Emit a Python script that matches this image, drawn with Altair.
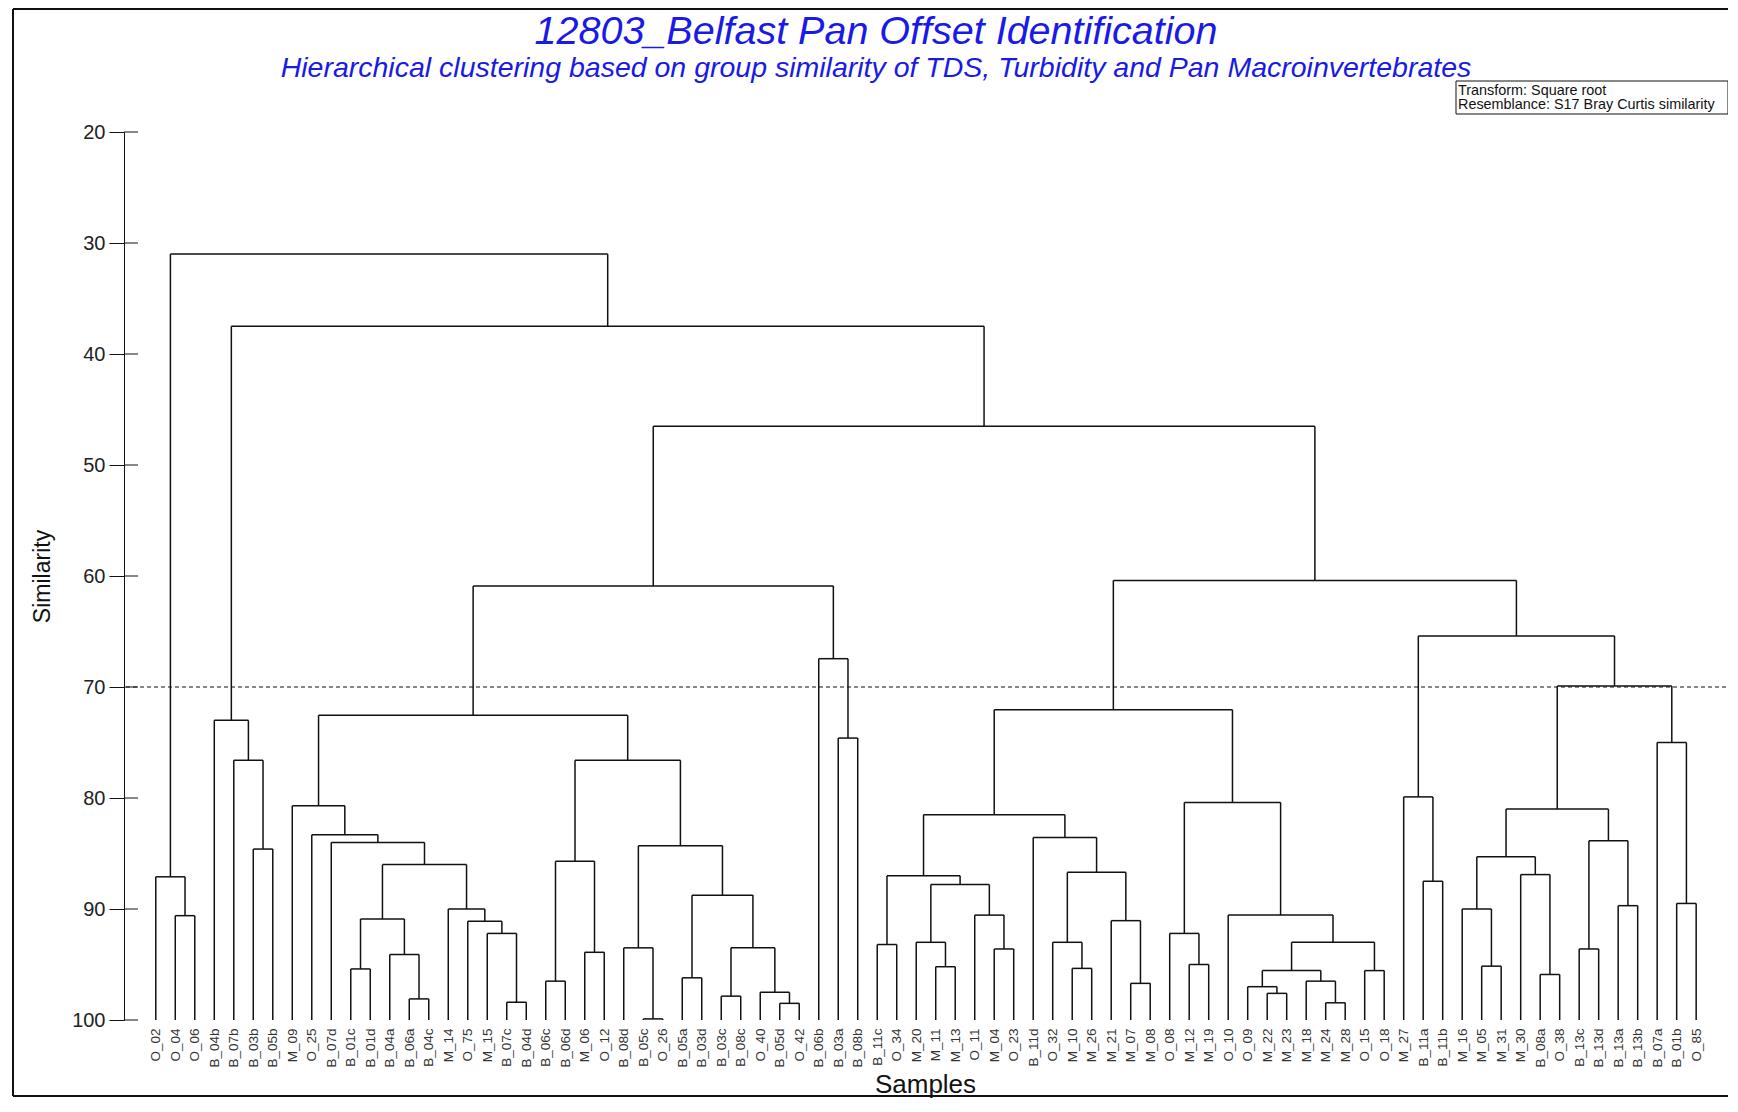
import json
import altair as alt
import pandas as pd

title_text = "12803_Belfast Pan Offset Identification"
subtitle_text = "Hierarchical clustering based on group similarity of TDS, Turbidity and Pan Macroinvertebrates"
box_lines = ["Transform: Square root", "Resemblance: S17 Bray Curtis similarity"]

labels = ["O_02", "O_04", "O_06", "B_04b", "B_07b", "B_03b", "B_05b", "M_09", "O_25", "B_07d",
          "B_01c", "B_01d", "B_04a", "B_06a", "B_04c", "M_14", "O_75", "M_15", "B_07c", "B_04d",
          "B_06c", "B_06d", "M_06", "O_12", "B_08d", "B_05c", "O_26", "B_05a", "B_03d", "B_03c",
          "B_08c", "O_40", "B_05d", "O_42", "B_06b", "B_03a", "B_08b", "B_11c", "O_34", "M_20",
          "M_11", "M_13", "O_11", "M_04", "O_23", "B_11d", "O_32", "M_10", "M_26", "M_21",
          "M_07", "M_08", "O_08", "M_12", "M_19", "O_10", "O_09", "M_22", "M_23", "M_18",
          "M_24", "M_28", "O_15", "O_18", "M_27", "B_11a", "B_11b", "M_16", "M_05", "M_31",
          "M_30", "B_08a", "O_38", "B_13c", "B_13d", "B_13a", "B_13b", "B_07a", "B_01b", "O_85"]

# linkage: merge k (1-based, referenced as "mk") joins merge_a[k-1] and merge_b[k-1] at merge_sim[k-1]
merge_a = ["O_04", "O_02", "B_03b", "B_07b", "B_04b", "B_01c", "B_06a", "B_04a", "m6", "B_07c",
           "M_15", "O_75", "M_14", "m9", "B_07d", "O_25", "M_09", "B_06c", "M_06", "m18",
           "B_05c", "B_08d", "B_05a", "B_03c", "B_05d", "O_40", "m24", "m23", "m22", "m20",
           "m17", "B_03a", "B_06b", "m31", "B_11c", "M_11", "M_20", "M_04", "O_11", "m37",
           "m35", "M_10", "O_32", "M_07", "M_21", "m43", "B_11d", "m41", "M_12", "O_08",
           "M_22", "O_09", "M_24", "M_18", "m52", "O_15", "m55", "O_10", "m50", "m48",
           "B_11a", "M_27", "M_05", "M_16", "B_08a", "M_30", "m64", "B_13c", "B_13a", "m68",
           "m67", "B_01b", "B_07a", "m71", "m62", "m60", "m34", "m5", "m2"]
merge_b = ["O_06", "m1", "B_05b", "m3", "m4", "B_01d", "B_04c", "m7", "m8", "B_04d",
           "m10", "m11", "m12", "m13", "m14", "m15", "m16", "B_06d", "O_12", "m19",
           "O_26", "m21", "B_03d", "B_08c", "O_42", "m25", "m26", "m27", "m28", "m29",
           "m30", "B_08b", "m32", "m33", "O_34", "M_13", "m36", "O_23", "m38", "m39",
           "m40", "M_26", "m42", "M_08", "m44", "m45", "m46", "m47", "M_19", "m49",
           "M_23", "m51", "M_28", "m53", "m54", "O_18", "m56", "m57", "m58", "m59",
           "B_11b", "m61", "M_31", "m63", "O_38", "m65", "m66", "B_13d", "B_13b", "m69",
           "m70", "O_85", "m72", "m73", "m74", "m75", "m76", "m77", "m78"]
merge_sim = [90.6, 87.1, 84.6, 76.6, 73.0, 95.4, 98.1, 94.1, 90.9, 98.4,
             92.2, 91.1, 90.0, 86.0, 84.0, 83.3, 80.7, 96.5, 93.9, 85.7,
             99.9, 93.5, 96.2, 97.85, 98.5, 97.5, 93.5, 88.75, 84.3, 76.6,
             72.55, 74.6, 67.45, 60.9, 93.2, 95.2, 93.0, 93.6, 90.55, 87.8,
             87.0, 95.35, 93.0, 96.7, 91.05, 86.7, 83.55, 81.5, 95.0, 92.2,
             97.6, 97.0, 98.45, 96.5, 95.55, 95.55, 93.0, 90.55, 80.4, 72.05,
             87.5, 79.9, 95.15, 90.0, 95.9, 86.9, 85.3, 93.6, 89.7, 83.85,
             81.0, 89.5, 75.0, 69.9, 65.4, 60.4, 46.5, 37.5, 31.0]

y_ticks = [20, 30, 40, 50, 60, 70, 80, 90, 100]
cut_level = [70]

# build dendrogram segments from the linkage
pos = {name: float(i) for i, name in enumerate(labels)}
hgt = {name: 100.0 for name in labels}
rows = []
for k, (a, b, h) in enumerate(zip(merge_a, merge_b, merge_sim), start=1):
    xa, xb = pos[a], pos[b]
    rows.append({"x": xa, "x2": xb, "y": h, "y2": h})
    rows.append({"x": xa, "x2": xa, "y": hgt[a], "y2": h})
    rows.append({"x": xb, "x2": xb, "y": hgt[b], "y2": h})
    pos[f"m{k}"] = (xa + xb) / 2
    hgt[f"m{k}"] = h
seg = pd.DataFrame(rows)

W, H = 1602, 888
FONT = "Liberation Sans"
xscale = alt.Scale(domain=[-1.63, 80.53], nice=False, zero=False)
yscale = alt.Scale(domain=[20, 100], reverse=True, nice=False, zero=False)

label_expr = json.dumps(labels) + "[datum.value]"

yaxis = alt.Axis(
    values=y_ticks, tickSize=15, tickColor="#111111", domainColor="#111111",
    labelFontSize=20, labelColor="#222222", labelPadding=4, grid=False,
    title="Similarity", titleFontSize=23, titleFontWeight="normal",
    titleColor="#111111", titlePadding=17)

tree = alt.Chart(seg).mark_rule(color="#111111", strokeWidth=1.5).encode(
    x=alt.X("x:Q", scale=xscale, axis=alt.Axis(
        values=list(range(len(labels))), labelExpr=label_expr, labelAngle=-90,
        labelFontSize=13.5, labelColor="#333333", labelPadding=8, labelOverlap=False,
        labelFlush=False, labelBound=False, ticks=False, domain=False, grid=False,
        title="Samples", titleFontSize=26, titleFontWeight="normal", titleColor="#111111",
        titlePadding=4)),
    x2="x2:Q",
    y=alt.Y("y:Q", scale=yscale, axis=yaxis),
    y2="y2:Q",
)

inner_ticks = alt.Chart(pd.DataFrame({"y": y_ticks})).mark_rule(
    color="#111111", strokeWidth=1).encode(
    y=alt.Y("y:Q", scale=yscale, axis=yaxis), x=alt.value(0), x2=alt.value(14))

cut = alt.Chart(pd.DataFrame({"y": cut_level})).mark_rule(
    color="#111111", strokeWidth=1, strokeDash=[4, 3]).encode(
    y=alt.Y("y:Q", scale=yscale, axis=yaxis))

title_layer = alt.Chart(pd.DataFrame({"t": [title_text]})).mark_text(
    font=FONT, fontSize=39.5, fontStyle="italic", color="#1a1ae6",
    align="center", baseline="alphabetic").encode(
    text="t:N", x=alt.value(752), y=alt.value(-88))

subtitle_layer = alt.Chart(pd.DataFrame({"t": [subtitle_text]})).mark_text(
    font=FONT, fontSize=28.5, fontStyle="italic", color="#1a1ae6",
    align="center", baseline="alphabetic").encode(
    text="t:N", x=alt.value(752), y=alt.value(-55))

box = alt.Chart(pd.DataFrame({"k": [0]})).mark_rect(
    fill="white", stroke="#111111", strokeWidth=1).encode(
    x=alt.value(1332), x2=alt.value(1604), y=alt.value(-51), y2=alt.value(-18))

box_t1 = alt.Chart(pd.DataFrame({"t": [box_lines[0]]})).mark_text(
    font=FONT, fontSize=14.4, color="#111111", align="left", baseline="alphabetic").encode(
    text="t:N", x=alt.value(1334), y=alt.value(-37.5))
box_t2 = alt.Chart(pd.DataFrame({"t": [box_lines[1]]})).mark_text(
    font=FONT, fontSize=14.4, color="#111111", align="left", baseline="alphabetic").encode(
    text="t:N", x=alt.value(1334), y=alt.value(-23))

dummy = pd.DataFrame({"k": [0]})
frame_left = alt.Chart(dummy).mark_rule(color="#111111", strokeWidth=2).encode(
    x=alt.value(-111), y=alt.value(-123), y2=alt.value(964))
frame_top = alt.Chart(dummy).mark_rule(color="#111111", strokeWidth=2).encode(
    y=alt.value(-123), x=alt.value(-111), x2=alt.value(1604))
frame_bottom = alt.Chart(dummy).mark_rule(color="#111111", strokeWidth=2).encode(
    y=alt.value(964), x=alt.value(-111), x2=alt.value(1604))

chart = alt.layer(
    tree, inner_ticks, cut, title_layer, subtitle_layer, box, box_t1, box_t2,
    frame_left, frame_top, frame_bottom,
).properties(
    width=W, height=H,
    padding={"left": 116, "top": 124, "right": 2, "bottom": 78},
    autosize=alt.AutoSizeParams(type="none"),
    background="white",
).configure_view(stroke=None).configure_axis(labelFont=FONT, titleFont=FONT)

chart.save("out.html", embed_options={"renderer": "svg", "actions": False})
